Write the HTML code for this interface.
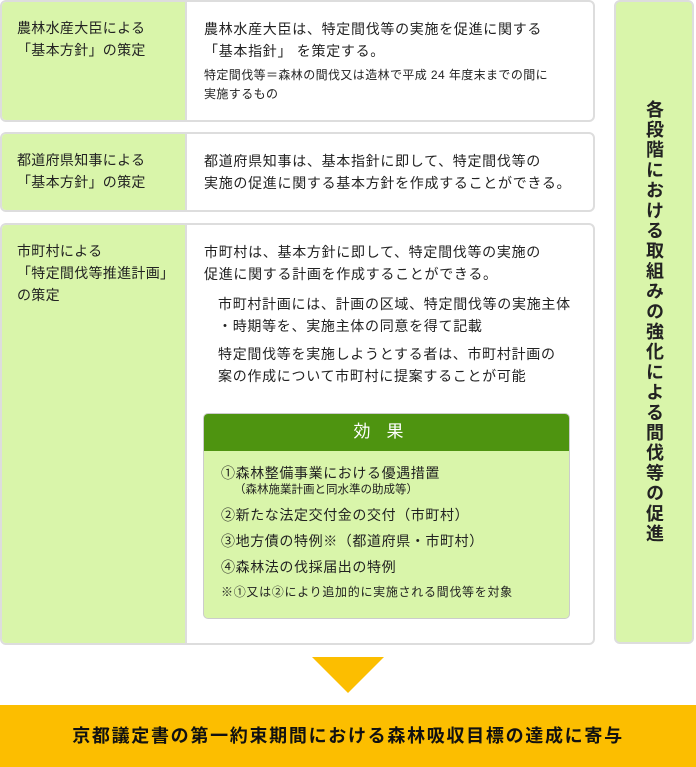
<!DOCTYPE html>
<html><head><meta charset="utf-8"><style>
*{margin:0;padding:0;box-sizing:border-box}
body{width:696px;height:767px;background:#fff;font-family:"Liberation Sans","Noto Sans CJK JP",sans-serif;color:#222;position:relative;overflow:hidden}
.box{position:absolute;left:0;width:595px;border:2px solid #ddd;border-radius:6px;background:#fff;overflow:hidden}
.lab{position:absolute;left:0;top:0;bottom:0;width:185px;background:#d9f5aa;border-right:2px solid #ddd;padding:15px 0 0 15px;font-size:14px;line-height:22px;letter-spacing:0.3px}
.txt{position:absolute;left:202px;font-size:14px;line-height:22px;letter-spacing:0.7px;white-space:nowrap}
.sm{font-size:12px;line-height:19px;letter-spacing:0.4px}
.vert{position:absolute;left:614px;top:0;width:80px;height:644px;background:#d9f5aa;border:2px solid #ddd;border-radius:6px}
.vt{position:absolute;left:26px;top:98px;writing-mode:vertical-rl;font-size:18px;font-weight:bold;letter-spacing:2.2px;line-height:24px}
.eff{position:absolute;left:203px;top:413px;width:367px;height:206px;border:1px solid #ccc;border-radius:5px;background:#d9f5aa;overflow:hidden}
.effh{height:37px;background:#4e9410;color:#fff;text-align:center;font-size:17px;line-height:36px;letter-spacing:16px}
.ei{position:absolute;left:17px;font-size:14px;line-height:18px;letter-spacing:0.6px;white-space:nowrap}
</style></head><body>
<div class="box" style="top:0;height:122px">
<div class="lab">農林水産大臣による<br>「基本方針」の策定</div>
<div class="txt" style="top:16px">農林水産大臣は、特定間伐等の実施を促進に関する<br>「基本指針」 を策定する。</div>
<div class="txt sm" style="top:64px">特定間伐等＝森林の間伐又は造林で平成 24 年度末までの間に<br>実施するもの</div>
</div>
<div class="box" style="top:132px;height:80px">
<div class="lab">都道府県知事による<br>「基本方針」の策定</div>
<div class="txt" style="top:16px">都道府県知事は、基本指針に即して、特定間伐等の<br>実施の促進に関する基本方針を作成することができる。</div>
</div>
<div class="box" style="top:223px;height:422px">
<div class="lab">市町村による<br>「特定間伐等推進計画」<br>の策定</div>
<div class="txt" style="top:16px">市町村は、基本方針に即して、特定間伐等の実施の<br>促進に関する計画を作成することができる。</div>
<div class="txt" style="top:68px;left:216px">市町村計画には、計画の区域、特定間伐等の実施主体<br>・時期等を、実施主体の同意を得て記載</div>
<div class="txt" style="top:118px;left:216px">特定間伐等を実施しようとする者は、市町村計画の<br>案の作成について市町村に提案することが可能</div>
</div>
<div class="eff">
<div class="effh">効果</div>
<div class="ei" style="top:50px">①森林整備事業における優遇措置</div>
<div class="ei" style="left:30px;top:68px;font-size:11.5px;letter-spacing:0;line-height:16px">（森林施業計画と同水準の助成等）</div>
<div class="ei" style="top:92px">②新たな法定交付金の交付（市町村）</div>
<div class="ei" style="top:118px">③地方債の特例※（都道府県・市町村）</div>
<div class="ei" style="top:144px">④森林法の伐採届出の特例</div>
<div class="ei" style="top:170px;font-size:12px;letter-spacing:0.7px;line-height:16px">※①又は②により追加的に実施される間伐等を対象</div>
</div>
<div class="vert"><div class="vt">各段階における取組みの強化による間伐等の促進</div></div>
<div style="position:absolute;left:312px;top:657px;width:0;height:0;border-left:36px solid transparent;border-right:36px solid transparent;border-top:36px solid #fcbe00"></div>
<div style="position:absolute;left:0;top:705px;width:696px;height:62px;background:#fcbe00;text-align:center;font-size:18px;font-weight:bold;line-height:62px;letter-spacing:1.7px;color:#111">京都議定書の第一約束期間における森林吸収目標の達成に寄与</div>
</body></html>
